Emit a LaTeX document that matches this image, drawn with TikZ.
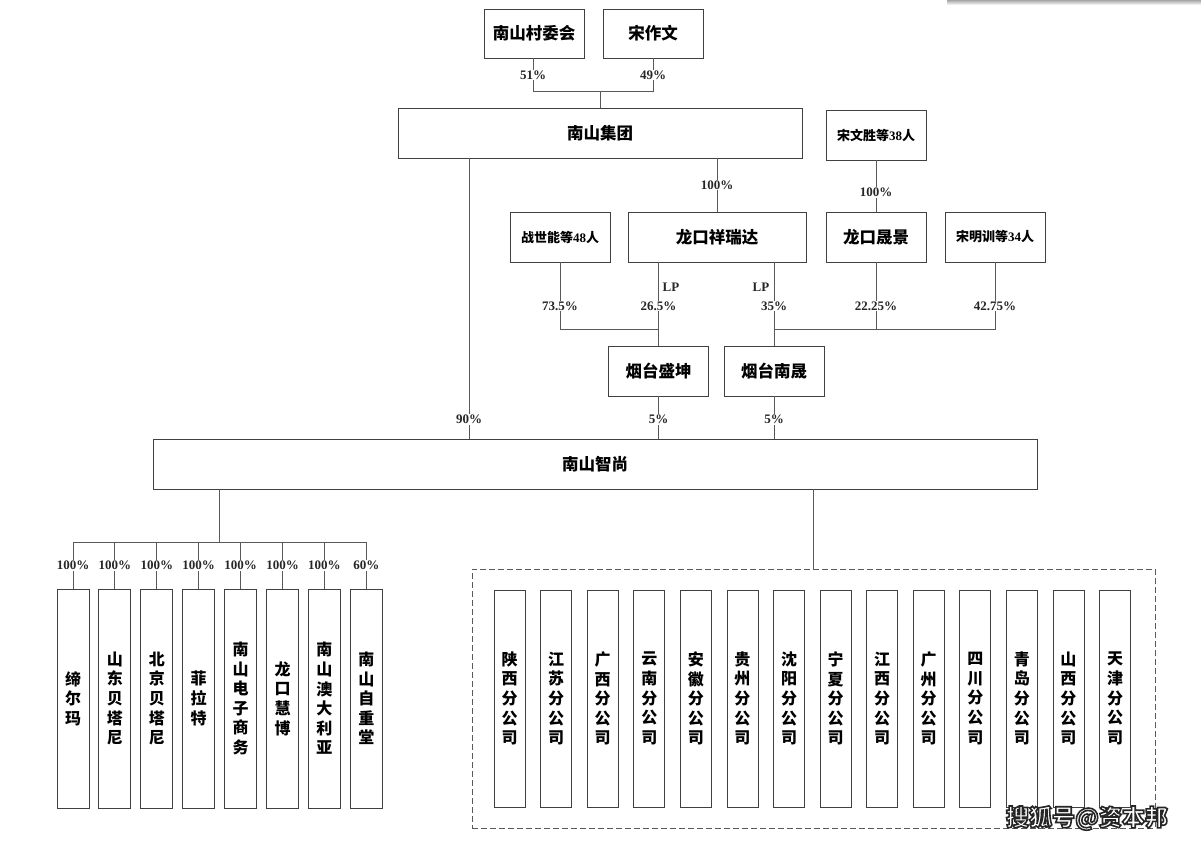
\documentclass[tikz,border=0pt]{standalone}
\usepackage{fontspec}
\newfontfamily\cjk{Noto Sans CJK SC}
\newfontfamily\numf{Liberation Serif}
\newcommand{\mixlab}[3]{{\cjk\bfseries #1}{\numf\bfseries #2}{\cjk\bfseries #3}}
\newcommand{\outlinetext}[1]{\special{pdf:literal direct 0.15 G 1.6 w 2 Tr}#1\special{pdf:literal direct 0 Tr}}
\tikzset{
 box/.style={draw=black!75, line width=0.9pt, fill=white, inner sep=0pt, text=black,
   font=\cjk\bfseries\fontsize{16.5}{19}\selectfont},
 sbox/.style={box, font=\fontsize{13}{15}\selectfont},
 vbox/.style={box, minimum width=32, minimum height=219, align=center,
   font=\cjk\bfseries\fontsize{16}{19.6}\selectfont},
 bbox/.style={vbox, minimum width=31, minimum height=217},
 ln/.style={draw=black!65, line width=0.9pt},
 pct/.style={fill=white, inner sep=1pt, text=black!85, font=\numf\bfseries\fontsize{13}{14}\selectfont},
 lp/.style={inner sep=1pt, text=black!85, font=\numf\bfseries\fontsize{13}{14}\selectfont},
}
\begin{document}
\begin{tikzpicture}[x=1pt,y=-1pt]
\useasboundingbox (0,0) rectangle (1201,844);
\fill[white] (0,0) rectangle (1201,844);
\shade[top color=black!35, bottom color=white] (947,0) rectangle (1201,5);

% top boxes
\node[box, minimum width=100, minimum height=49] (cw) at (534,33.5) {南山村委会};
\node[box, minimum width=100, minimum height=49] (szw) at (653,33.5) {宋作文};
\node[box, minimum width=404, minimum height=50] (jt) at (600,133) {南山集团};
\node[sbox, minimum width=100, minimum height=50] (sws) at (876,135) {\mixlab{宋文胜等}{38}{人}};
\node[sbox, minimum width=100, minimum height=50] (zsn) at (560,237) {\mixlab{战世能等}{48}{人}};
\node[box, minimum width=178, minimum height=50] (xrd) at (717,237) {龙口祥瑞达};
\node[box, minimum width=100, minimum height=50] (sj) at (876,237) {龙口晟景};
\node[sbox, minimum width=100, minimum height=50] (smx) at (995,237) {\mixlab{宋明训等}{34}{人}};
\node[box, minimum width=100, minimum height=50] (sk) at (658.5,371) {烟台盛坤};
\node[box, minimum width=100, minimum height=50] (ns) at (774,371) {烟台南晟};
\node[box, minimum width=884, minimum height=50] (zs) at (595,464) {南山智尚};

% junction coordinates
\coordinate (j1) at (600,91);
\coordinate (j2) at (560,329);
\coordinate (j3) at (774,329);
\coordinate (c90) at (469,0);
\coordinate (lb) at (219,542);
\coordinate (rb) at (813,0);

% top connectors
\draw[ln] (cw.south -| 533,0) -- (533,91) -- (653,91) -- (szw.south -| 653,0);
\draw[ln] (j1) -- (jt.north -| j1);
\node[pct] at (533,75) {51\%};
\node[pct] at (653,75) {49\%};

\draw[ln] (jt.south -| xrd) -- (xrd.north) node[pct, midway] {100\%};
\draw[ln] (jt.south -| c90) -- (zs.north -| c90) node[pct, pos=0.932] {90\%};
\draw[ln] (sws.south) -- (sj.north) node[pct, pos=0.63] {100\%};

% middle connectors
\draw[ln] (zsn.south) -- (j2) -- (j2 -| sk);
\draw[ln] (xrd.south -| sk) -- (sk.north);
\node[pct] at (560,306) {73.5\%};
\node[pct] at (658.5,306) {26.5\%};
\node[lp] at (671,287) {LP};

\draw[ln] (xrd.south -| ns) -- (ns.north);
\draw[ln] (j3) -- (j3 -| smx) -- (smx.south);
\draw[ln] (sj.south) -- (sj |- j3);
\node[pct] at (774,306) {35\%};
\node[pct] at (876,306) {22.25\%};
\node[pct] at (995,306) {42.75\%};
\node[lp] at (761,287) {LP};

\draw[ln] (sk.south) -- (zs.north -| sk) node[pct, pos=0.55] {5\%};
\draw[ln] (ns.south) -- (zs.north -| ns) node[pct, pos=0.55] {5\%};

% left subsidiaries
\foreach \t [count=\i from 0] in {{缔\\尔\\玛},{山\\东\\贝\\塔\\尼},{北\\京\\贝\\塔\\尼},{菲\\拉\\特},{南\\山\\电\\子\\商\\务},{龙\\口\\慧\\博},{南\\山\\澳\\大\\利\\亚},{南\\山\\自\\重\\堂}}
  \node[vbox] (L\i) at ({73+41.9*\i},698.5) {\t};
\draw[ln] (zs.south -| lb) -- (lb);
\draw[ln] (L0.north |- lb) -- (L7.north |- lb);
\foreach \i/\p in {0/100,1/100,2/100,3/100,4/100,5/100,6/100,7/60}
  \draw[ln] (L\i.north |- lb) -- (L\i.north) node[pct, midway] {\p\%};

% branches
\node[draw=black!65, line width=0.9pt, dash pattern=on 6pt off 3pt, minimum width=683, minimum height=259, inner sep=0pt] (dz) at (813.5,698.5) {};
\draw[ln] (zs.south -| rb) -- (dz.north -| rb);
\foreach \a/\b [count=\i from 0] in {陕/西,江/苏,广/西,云/南,安/徽,贵/州,沈/阳,宁/夏,江/西,广/州,四/川,青/岛,山/西,天/津}
  \node[bbox] (B\i) at ({509.6+46.57*\i},698.5) {\a\\\b\\分\\公\\司};

% watermark
\node[font=\cjk\bfseries\fontsize{23}{25}\selectfont, text=white] (wm) at (1087,818) {\outlinetext{搜狐号@资本邦}};
\end{tikzpicture}
\end{document}
